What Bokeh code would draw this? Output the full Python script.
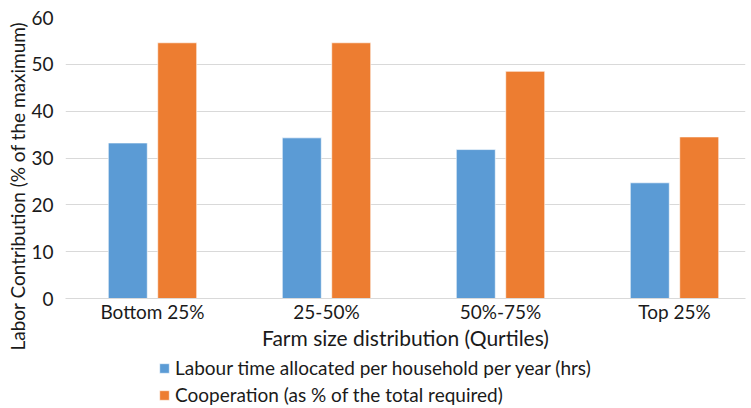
import numpy as np
from bokeh.plotting import figure
from bokeh.layouts import column
from bokeh.models import Range1d, FixedTicker, Legend, LegendItem, Title
from bokeh.embed import file_html
from bokeh.resources import INLINE

categories = ["Bottom 25%", "25-50%", "50%-75%", "Top 25%"]
labour = [33.2, 34.3, 31.8, 24.7]
cooperation = [54.6, 54.6, 48.5, 34.5]
series_names = ["Labour time allocated per household per year (hrs)",
                "Cooperation (as % of the total required)"]
y_ticks = [0, 10, 20, 30, 40, 50, 60]

FONT = "Lato"
BLUE = "#5B9BD5"
ORANGE = "#ED7D31"
TXT = "#1a1a1a"

xc = np.arange(len(categories)) + 0.5

# main chart
p = figure(width=751, frame_width=680, frame_height=281,
           output_backend="svg", toolbar_location=None,
           x_range=Range1d(0, 3.908), y_range=Range1d(0, 60),
           min_border_left=65, min_border_right=6, min_border_top=17, min_border_bottom=0)
p.outline_line_color = None

p.vbar(x=xc - 0.142, top=labour, width=0.224, bottom=0,
       fill_color=BLUE, line_color="white", line_alpha=0.6, line_width=1)
p.vbar(x=xc + 0.142, top=cooperation, width=0.224, bottom=0,
       fill_color=ORANGE, line_color="white", line_alpha=0.6, line_width=1)

p.xaxis.ticker = FixedTicker(ticks=list(xc))
p.xaxis.major_label_overrides = {float(v): c for v, c in zip(xc, categories)}
p.yaxis.ticker = FixedTicker(ticks=y_ticks)
p.xgrid.visible = False
p.ygrid.grid_line_color = "#d9d9d9"
p.ygrid.grid_line_width = 1

for ax in (p.xaxis[0], p.yaxis[0]):
    ax.major_tick_line_color = None
    ax.minor_tick_line_color = None
    ax.major_label_text_font = FONT
    ax.major_label_text_font_size = "19px"
    ax.major_label_text_color = TXT
p.yaxis.axis_line_color = None
p.xaxis.axis_line_color = "#d9d9d9"
p.xaxis.major_label_standoff = -5
p.yaxis.major_label_standoff = 6
p.xaxis.axis_label = "Farm size distribution (Qurtiles)"
p.xaxis.axis_label_text_font = FONT
p.xaxis.axis_label_text_font_size = "21px"
p.xaxis.axis_label_text_font_style = "normal"
p.xaxis.axis_label_text_color = TXT
p.xaxis.axis_label_standoff = -1

ytitle = Title(text="Labor Contribution (% of the maximum)", align="left",
               text_font=FONT, text_font_size="19px", text_font_style="normal",
               text_color=TXT, offset=-52, standoff=0)
p.add_layout(ytitle, "left")

# legend strip below the chart
pl = figure(width=751, height=54, output_backend="svg", toolbar_location=None,
            x_range=Range1d(0, 3.908), y_range=Range1d(1000, 1001),
            min_border=0, min_border_left=0, min_border_right=0,
            min_border_top=0, min_border_bottom=0)
pl.outline_line_color = None
pl.axis.visible = False
pl.grid.visible = False
l1 = pl.vbar(x=xc - 0.142, top=labour, width=0.224, bottom=0,
             fill_color=BLUE, line_color="white", line_alpha=0.6, line_width=1)
l2 = pl.vbar(x=xc + 0.142, top=cooperation, width=0.224, bottom=0,
             fill_color=ORANGE, line_color="white", line_alpha=0.6, line_width=1)

legend = Legend(items=[LegendItem(label=series_names[0], renderers=[l1]),
                       LegendItem(label=series_names[1], renderers=[l2])],
                location=(93, 0), orientation="vertical",
                padding=0, margin=0, spacing=4, glyph_height=12, glyph_width=12,
                label_height=19, label_standoff=5,
                label_text_font=FONT, label_text_font_size="19px", label_text_color=TXT,
                border_line_alpha=0, background_fill_alpha=0)
pl.add_layout(legend, "center")

layout = column(p, pl, spacing=0)
open("out.html", "w").write(file_html(layout, INLINE))
